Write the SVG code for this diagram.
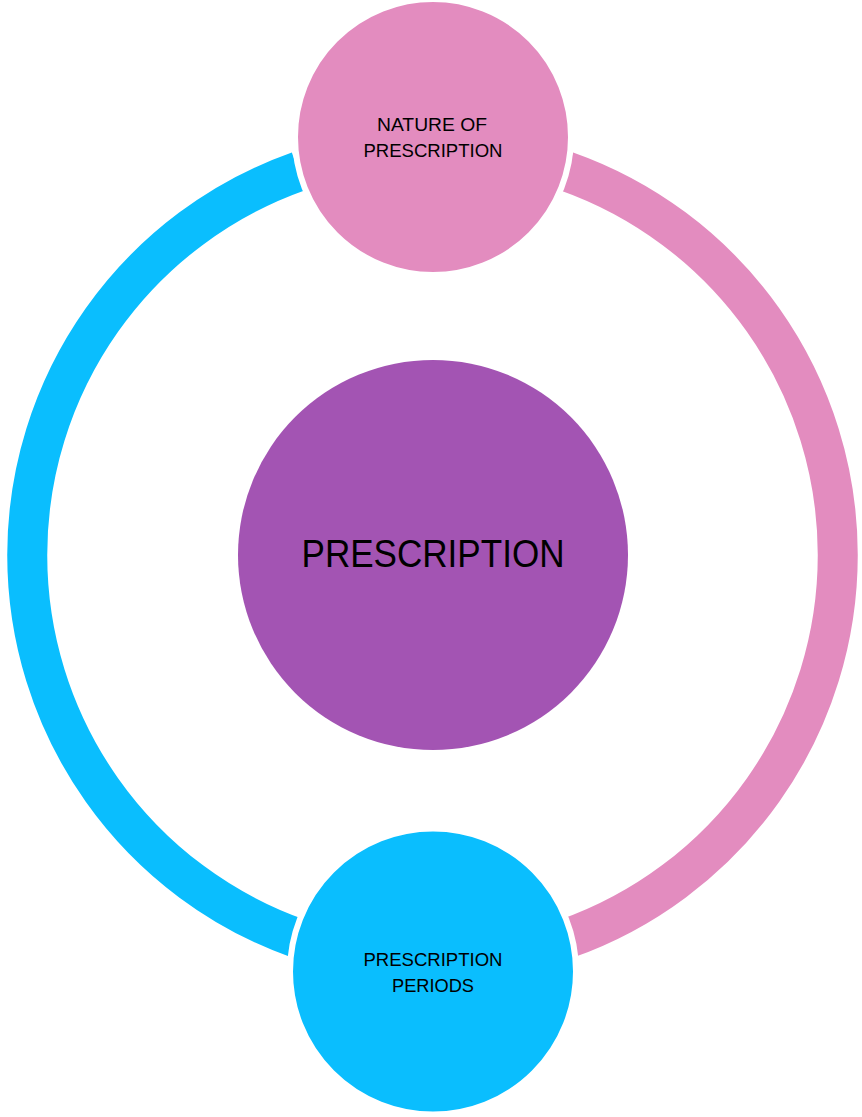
<svg xmlns="http://www.w3.org/2000/svg" width="862" height="1117" viewBox="0 0 862 1117">
  <style>
    .arc { fill: none; stroke-width: 40; stroke-linecap: butt; }
    .node { stroke: #ffffff; stroke-width: 6; }
    .lbl { font-family: "Liberation Sans", Arial, sans-serif; fill: #000; text-anchor: middle; }
    .small { font-size: 19px; }
    .big { font-size: 39px; }
  </style>
  <rect width="862" height="1117" fill="#ffffff"/>
  <g id="connectors">
    <path class="arc" stroke="#E38CBF" d="M 566.5 171.3 A 407 407 0 0 1 566.5 938.7"/>
    <path class="arc" stroke="#0ABEFE" d="M 298.5 938.7 A 407 407 0 0 1 298.5 171.3"/>
  </g>
  <g id="center">
    <circle cx="433" cy="555" r="195" fill="#A354B3"/>
    <text class="lbl big" x="433" y="567" textLength="263" lengthAdjust="spacingAndGlyphs">PRESCRIPTION</text>
  </g>
  <g id="nature">
    <circle class="node" cx="433" cy="137" r="138" fill="#E38CBF"/>
    <text class="lbl small" x="432" y="131" textLength="110" lengthAdjust="spacingAndGlyphs">NATURE OF</text>
    <text class="lbl small" x="433" y="157" textLength="139" lengthAdjust="spacingAndGlyphs">PRESCRIPTION</text>
  </g>
  <g id="periods">
    <circle class="node" cx="433" cy="971.5" r="143" fill="#0ABEFE"/>
    <text class="lbl small" x="433" y="966" textLength="139" lengthAdjust="spacingAndGlyphs">PRESCRIPTION</text>
    <text class="lbl small" x="433" y="992" textLength="82" lengthAdjust="spacingAndGlyphs">PERIODS</text>
  </g>
</svg>
